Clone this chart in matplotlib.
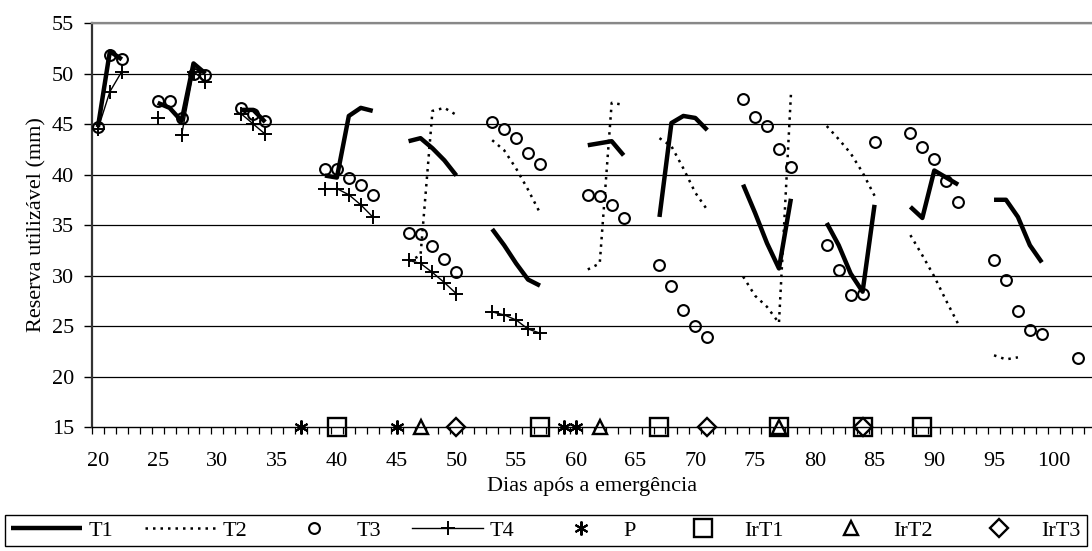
import numpy as np
import matplotlib.pyplot as plt
from matplotlib.ticker import MultipleLocator, FixedLocator

plt.rcParams['font.family'] = ['Liberation Serif', 'DejaVu Serif']

nan = np.nan

# T1 (linha grossa)
t1_dias = [20, 21, 22, 23,
           25, 26, 27, 28, 29, 30,
           32, 33, 34, 35,
           39, 40, 41, 42, 43, 44,
           46, 47, 48, 49, 50, 51,
           53, 54, 55, 56, 57, 58,
           61, 62, 63, 64, 65,
           67, 68, 69, 70, 71, 72,
           74, 75, 76, 77, 78, 79,
           81, 82, 83, 84, 85, 86,
           88, 89, 90, 91, 92, 93,
           95, 96, 97, 98, 99]
t1_vals = [44.7, 52.2, 51.4, nan,
           47.1, 46.6, 45.3, 51.0, 50.0, nan,
           46.4, 46.4, 45.2, nan,
           39.9, 39.7, 45.8, 46.6, 46.3, nan,
           43.3, 43.6, 42.6, 41.4, 39.9, nan,
           34.6, 33.0, 31.2, 29.6, 29.0, nan,
           42.9, 43.1, 43.3, 41.9, nan,
           35.8, 45.1, 45.8, 45.6, 44.4, nan,
           39.0, 36.2, 33.2, 30.7, 37.6, nan,
           35.2, 33.0, 30.2, 28.4, 37.0, nan,
           36.8, 35.7, 40.4, 39.7, 39.0, nan,
           37.5, 37.5, 35.8, 33.0, 31.3]

# T2 (pontilhada)
t2_dias = [46, 47, 48, 49, 50, 51,
           53, 54, 55, 56, 57, 58,
           61, 62, 63, 64, 65,
           67, 68, 69, 70, 71, 72,
           74, 75, 76, 77, 78, 79,
           81, 82, 83, 84, 85, 86,
           88, 89, 90, 91, 92, 93,
           95, 96, 97]
t2_vals = [31.4, 32.0, 46.3, 46.6, 45.9, nan,
           43.4, 42.4, 40.6, 38.5, 36.2, nan,
           30.6, 31.2, 47.1, 46.9, nan,
           43.6, 42.8, 40.6, 38.2, 36.5, nan,
           29.9, 28.0, 26.9, 25.3, 47.9, nan,
           44.8, 43.5, 42.1, 40.2, 37.9, nan,
           34.0, 32.0, 29.9, 27.5, 25.2, nan,
           22.1, 21.7, 21.9]

# T3 (círculos)
t3_dias = [20, 21, 22, 25, 26, 27, 28, 29, 32, 33, 34,
           39, 40, 41, 42, 43, 46, 47, 48, 49, 50,
           53, 54, 55, 56, 57, 61, 62, 63, 64,
           67, 68, 69, 70, 71, 74, 75, 76, 77, 78,
           81, 82, 83, 84, 85, 88, 89, 90, 91, 92,
           95, 96, 97, 98, 99, 102]
t3_vals = [44.7, 51.8, 51.4, 47.3, 47.3, 45.6, 50.0, 49.9, 46.6, 46.0, 45.3,
           40.5, 40.5, 39.7, 39.0, 38.0, 34.2, 34.1, 32.9, 31.6, 30.3,
           45.2, 44.5, 43.6, 42.1, 41.0, 38.0, 37.9, 37.0, 35.7,
           31.0, 29.0, 26.6, 25.0, 23.9, 47.5, 45.7, 44.8, 42.5, 40.7,
           33.0, 30.5, 28.1, 28.2, 43.2, 44.1, 42.7, 41.5, 39.4, 37.3,
           31.5, 29.6, 26.5, 24.6, 24.2, 21.8]

# T4 (linha fina com cruzes)
t4_dias = [20, 21, 22, 23,
           25, 26, 27, 28, 29, 30,
           32, 33, 34, 35,
           39, 40, 41, 42, 43, 44,
           46, 47, 48, 49, 50, 51,
           53, 54, 55, 56, 57]
t4_vals = [44.5, 48.2, 50.2, nan,
           45.6, nan, 43.9, 50.2, 49.2, nan,
           46.0, 45.0, 44.0, nan,
           38.6, 38.6, 38.0, 37.0, 35.8, nan,
           31.5, 31.2, 30.3, 29.3, 28.2, nan,
           26.4, 26.1, 25.6, 24.7, 24.3]

# Eventos (no eixo, em 15 mm)
p_dias = [37, 45, 59, 60]
irt1_dias = [40, 57, 67, 77, 84, 89]
irt2_dias = [47, 62, 77]
irt3_dias = [50, 71, 84]
base = 15

fig = plt.figure(figsize=(10.92, 5.51), dpi=100)
ax = fig.add_axes([0.0842, 0.225, 0.9158, 0.7332])

for v in range(20, 56, 5):
    ax.axhline(v, color='black', lw=0.9, zorder=1)

ax.plot(t1_dias, t1_vals, color='black', lw=3.2, solid_capstyle='butt', label='T1', zorder=3)
ax.plot(t2_dias, t2_vals, color='black', lw=1.8, linestyle=(0, (1.0, 2.0)), label='T2', zorder=3)
ax.plot(t3_dias, t3_vals, linestyle='none', marker='o', ms=7.8, mfc='none', mec='black',
        mew=1.5, label='T3', zorder=4)
ax.plot(t4_dias, t4_vals, color='black', lw=1.0, marker='+', ms=10, mew=1.4, label='T4', zorder=4)

ax.plot(p_dias, [base] * len(p_dias), linestyle='none', marker=(6, 2, 0), ms=10, mew=1.5,
        color='black', label='P', clip_on=False, zorder=5)
ax.plot(irt1_dias, [base] * len(irt1_dias), linestyle='none', marker='s', ms=13, mfc='none',
        mec='black', mew=1.7, label='IrT1', clip_on=False, zorder=5)
ax.plot(irt2_dias, [base] * len(irt2_dias), linestyle='none', marker='^', ms=10, mfc='none',
        mec='black', mew=1.7, label='IrT2', clip_on=False, zorder=5)
ax.plot(irt3_dias, [base] * len(irt3_dias), linestyle='none', marker='D', ms=9.5, mfc='none',
        mec='black', mew=1.7, label='IrT3', clip_on=False, zorder=5)

ax.set_xlim(19.5, 103.2)
ax.set_ylim(15, 55)

ax.xaxis.set_major_locator(FixedLocator(list(range(20, 101, 5))))
ax.xaxis.set_minor_locator(FixedLocator([d + 0.5 for d in range(19, 104)]))
ax.tick_params(axis='x', which='major', length=0, pad=18, labelsize=16)
ax.tick_params(axis='x', which='minor', length=5, width=0.9, direction='out')
ax.yaxis.set_major_locator(MultipleLocator(5))
ax.tick_params(axis='y', length=6, width=1.0, direction='out', pad=7, labelsize=16)

ax.spines['right'].set_visible(False)
ax.spines['top'].set_color('#888888')
ax.spines['top'].set_linewidth(1.6)
ax.spines['left'].set_color('#333333')
ax.spines['left'].set_linewidth(1.6)
ax.spines['bottom'].set_linewidth(1.0)

ax.set_ylabel('Reserva utilizável (mm)', fontsize=16, labelpad=4)
ax.set_xlabel('Dias após a emergência', fontsize=16, labelpad=4)

leg = fig.legend(loc='center', ncol=8, mode='expand',
                 bbox_to_anchor=(0.005, 0.004, 0.99, 0.066),
                 bbox_transform=fig.transFigure, fontsize=16, frameon=True,
                 fancybox=False, edgecolor='black', framealpha=1,
                 handlelength=3.2, handletextpad=0.3, borderaxespad=0,
                 borderpad=0.25)
leg.get_frame().set_linewidth(1.0)

fig.savefig('out.png', dpi=100)
